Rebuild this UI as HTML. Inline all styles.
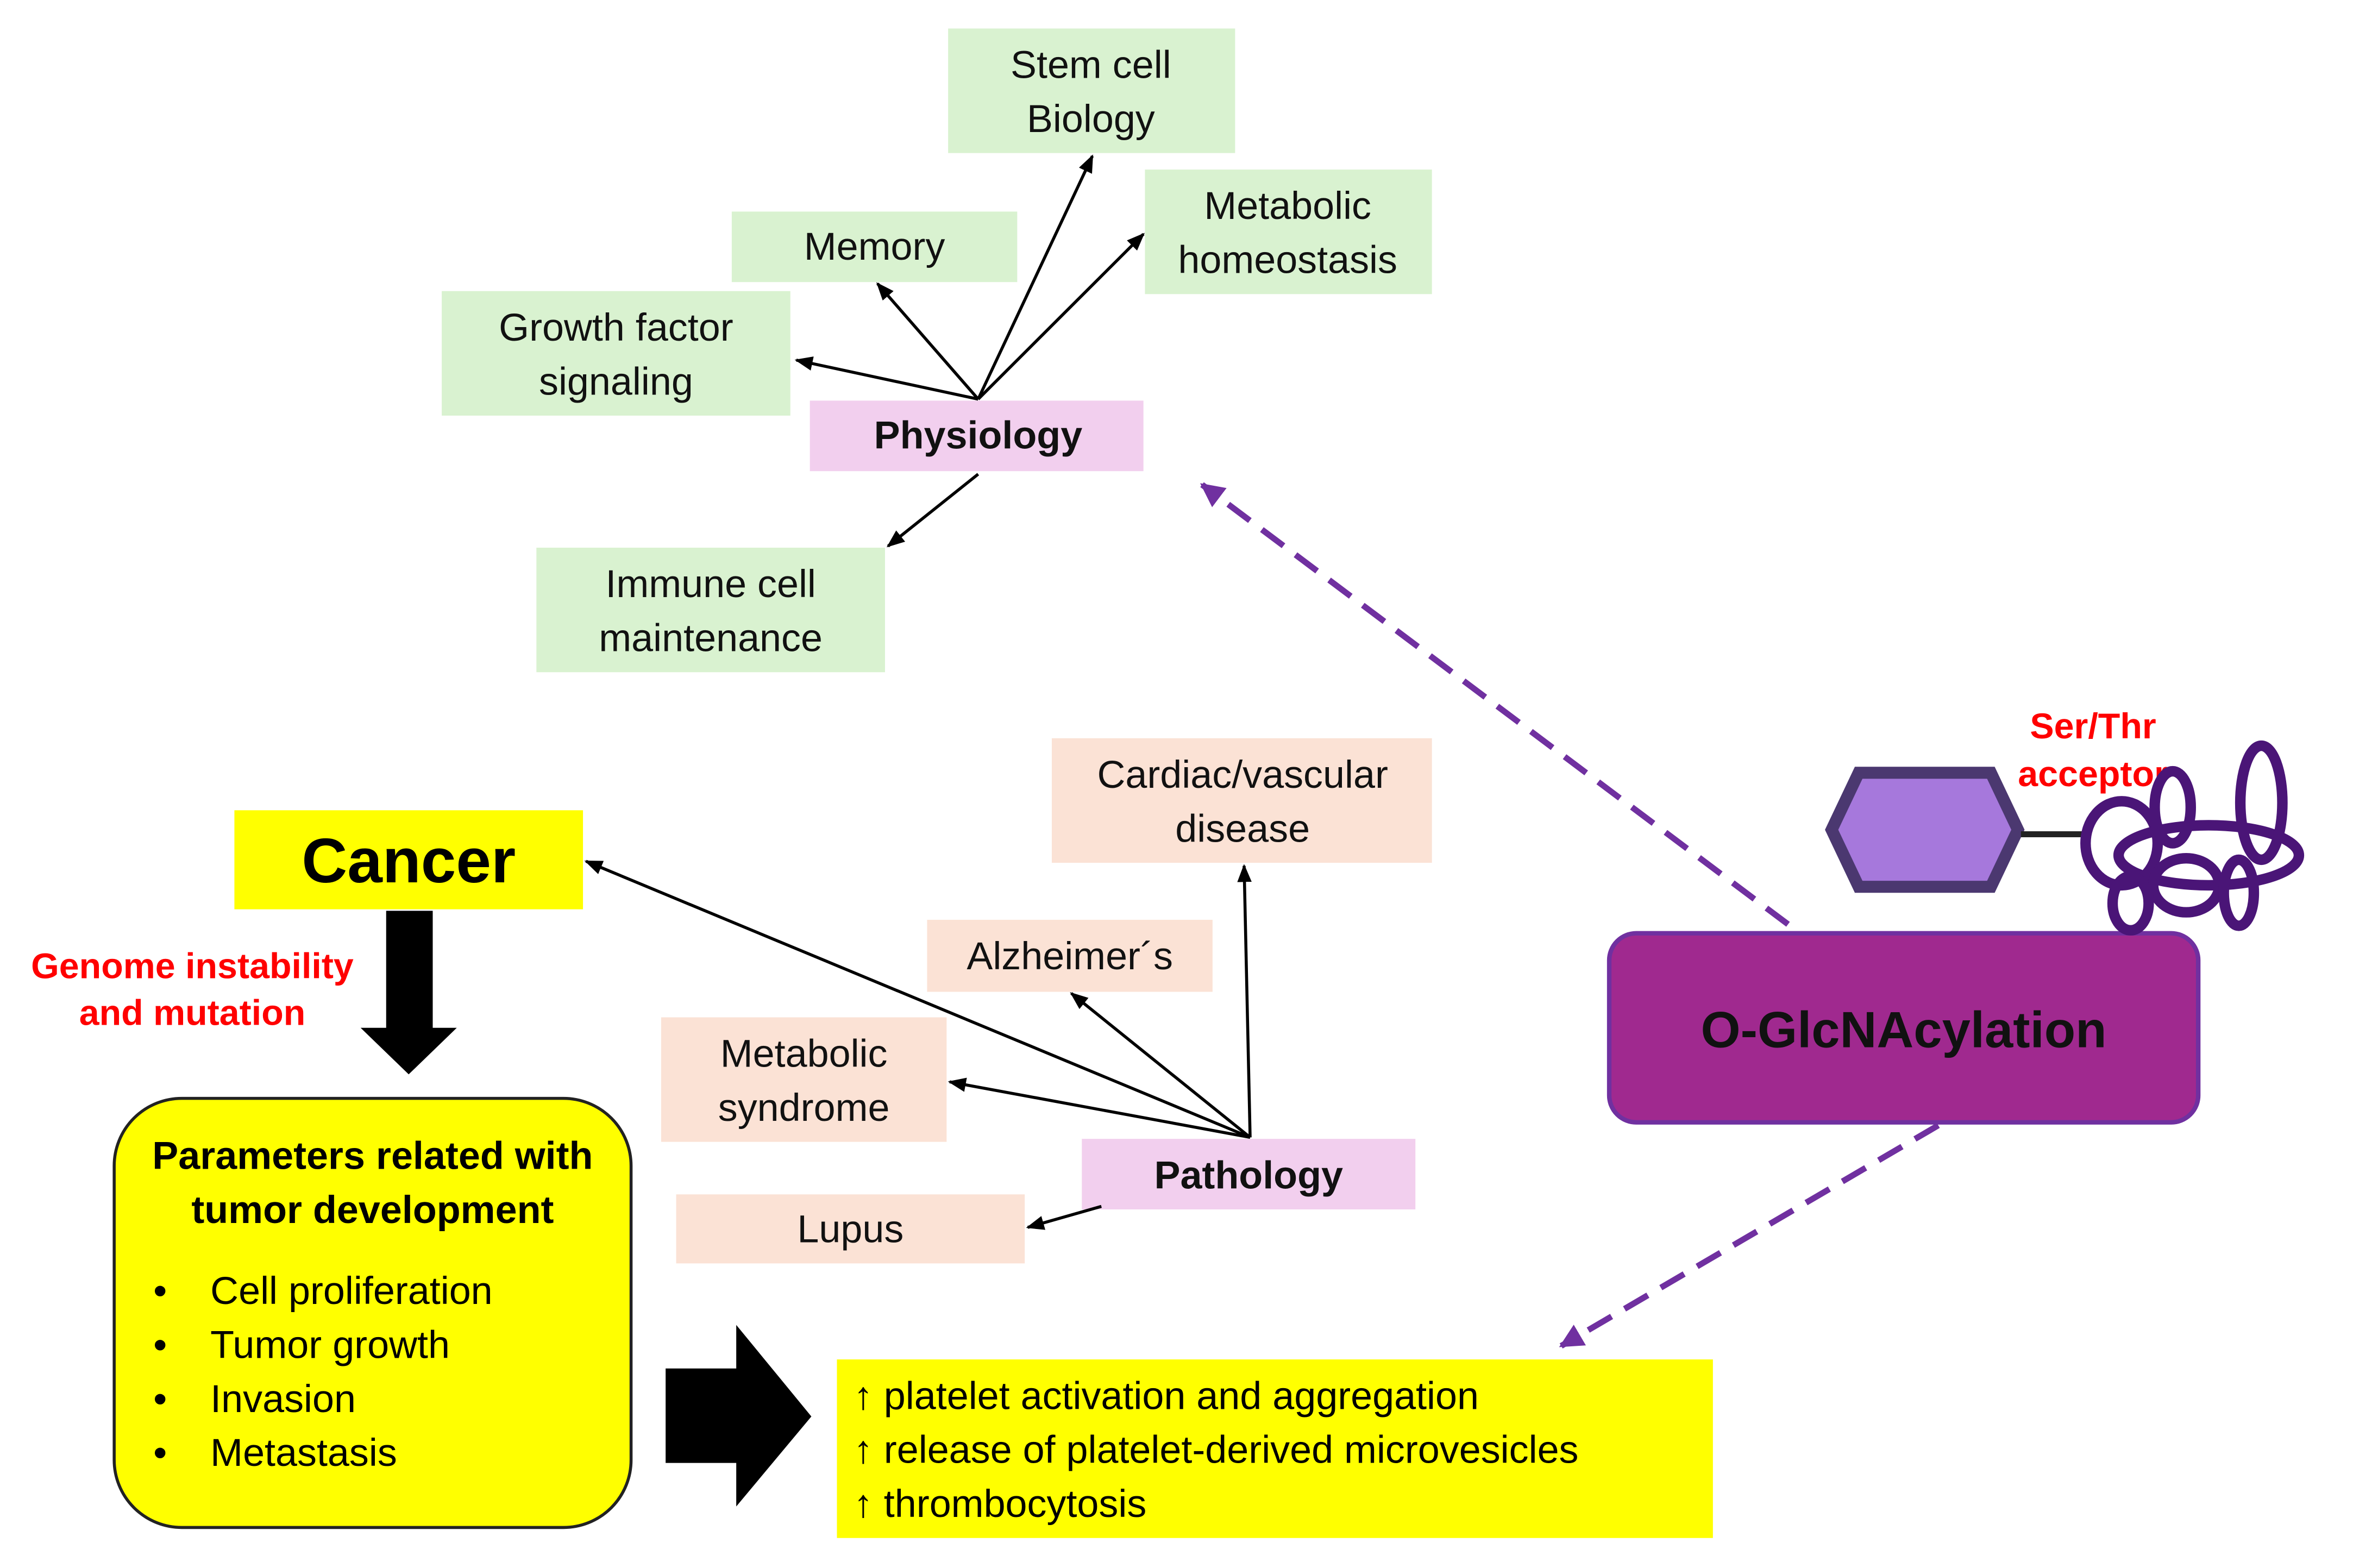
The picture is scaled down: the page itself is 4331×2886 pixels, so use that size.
<!DOCTYPE html>
<html><head><meta charset="utf-8"><style>
html,body{margin:0;padding:0;background:#fff;}
svg{display:block;}
text{font-family:"Liberation Sans","DejaVu Sans",sans-serif;}
</style></head><body>
<svg width="4331" height="2886" viewBox="0 0 1566 1045" preserveAspectRatio="none" xmlns="http://www.w3.org/2000/svg">
<defs>
<marker id="a" viewBox="0 0 10 10" refX="9" refY="5" markerWidth="6" markerHeight="6" orient="auto"><path d="M0,1 L10,5 L0,9 z" fill="#000"/></marker>
<marker id="p" viewBox="0 0 10 10" refX="9" refY="5" markerWidth="4" markerHeight="4" orient="auto"><path d="M0,0 L10,5 L0,10 z" fill="#7030a0"/></marker>
</defs>
<rect width="1566" height="1045" fill="#fff"/>
<g font-size="26" fill="#111" text-anchor="middle">
<rect x="631" y="19" width="191" height="83" fill="#d9f2d0"/>
<text x="726" y="52">Stem cell</text><text x="726" y="88">Biology</text>
<rect x="762" y="113" width="191" height="83" fill="#d9f2d0"/>
<text x="857" y="146">Metabolic</text><text x="857" y="182">homeostasis</text>
<rect x="487" y="141" width="190" height="47" fill="#d9f2d0"/>
<text x="582" y="173">Memory</text>
<rect x="294" y="194" width="232" height="83" fill="#d9f2d0"/>
<text x="410" y="227">Growth factor</text><text x="410" y="263">signaling</text>
<rect x="539" y="267" width="222" height="47" fill="#f2cfee"/>
<text x="651" y="299" font-weight="bold">Physiology</text>
<rect x="357" y="365" width="232" height="83" fill="#d9f2d0"/>
<text x="473" y="398">Immune cell</text><text x="473" y="434">maintenance</text>

<rect x="700" y="492" width="253" height="83" fill="#fbe2d5"/>
<text x="827" y="525">Cardiac/vascular</text><text x="827" y="561">disease</text>
<rect x="617" y="613" width="190" height="48" fill="#fbe2d5"/>
<text x="712" y="646">Alzheimer´s</text>
<rect x="440" y="678" width="190" height="83" fill="#fbe2d5"/>
<text x="535" y="711">Metabolic</text><text x="535" y="747">syndrome</text>
<rect x="720" y="759" width="222" height="47" fill="#f2cfee"/>
<text x="831" y="792" font-weight="bold">Pathology</text>
<rect x="450" y="796" width="232" height="46" fill="#fbe2d5"/>
<text x="566" y="828">Lupus</text>
</g>
<g stroke="#000" stroke-width="2" marker-end="url(#a)" fill="none">
<line x1="651" y1="266" x2="727" y2="104"/>
<line x1="651" y1="266" x2="761" y2="156"/>
<line x1="651" y1="266" x2="584" y2="189"/>
<line x1="651" y1="266" x2="530" y2="240"/>
<line x1="651" y1="316" x2="591" y2="364"/>
<line x1="832" y1="758" x2="828" y2="577"/>
<line x1="832" y1="758" x2="713" y2="662"/>
<line x1="832" y1="758" x2="632" y2="721"/>
<line x1="832" y1="758" x2="390" y2="574"/>
<line x1="733" y1="804" x2="684" y2="818"/>
</g>
<g stroke="#7030a0" stroke-width="4" stroke-dasharray="18,10" fill="none" marker-end="url(#p)">
<line x1="1190" y1="616" x2="800" y2="323"/>
<line x1="1290" y1="750" x2="1039" y2="897"/>
</g>
<rect x="156" y="540" width="232" height="66" fill="#ffff00"/>
<text x="272" y="588" font-size="42" font-weight="bold" text-anchor="middle" fill="#000">Cancer</text>
<path d="M257,607 H288 V685 H304 L272,716 L240,685 H257 Z" fill="#000"/>
<g font-size="24" font-weight="bold" fill="#ff0000" text-anchor="middle">
<text x="128" y="652">Genome instability</text><text x="128" y="683">and mutation</text>
<text x="1393" y="492">Ser/Thr</text><text x="1393" y="524">acceptor</text>
</g>
<rect x="76" y="732" width="344" height="286" rx="45" fill="#ffff00" stroke="#222" stroke-width="2"/>
<g font-size="26" fill="#000">
<text x="248" y="779" font-weight="bold" text-anchor="middle">Parameters related with</text>
<text x="248" y="815" font-weight="bold" text-anchor="middle">tumor development</text>
<text x="102" y="869">•</text><text x="140" y="869">Cell proliferation</text>
<text x="102" y="905">•</text><text x="140" y="905">Tumor growth</text>
<text x="102" y="941">•</text><text x="140" y="941">Invasion</text>
<text x="102" y="977">•</text><text x="140" y="977">Metastasis</text>
</g>
<path d="M443,912 H490 V883 L540,944 L490,1004 V975 H443 Z" fill="#000"/>
<rect x="557" y="906" width="583" height="119" fill="#ffff00"/>
<g font-size="26" fill="#000">
<text x="568" y="939">↑ platelet activation and aggregation</text>
<text x="568" y="975">↑ release of platelet-derived microvesicles</text>
<text x="568" y="1011">↑ thrombocytosis</text>
</g>
<rect x="1071" y="622" width="392" height="126" rx="18" fill="#a0298f" stroke="#7030a0" stroke-width="3"/>
<text x="1267" y="698" font-size="34" font-weight="bold" text-anchor="middle" fill="#111">O-GlcNAcylation</text>
<path d="M1237,515 H1325 L1343,553 L1325,591 H1237 L1219,553 Z" fill="#a678dc" stroke="#4b3870" stroke-width="8"/>
<line x1="1345" y1="556" x2="1387" y2="556" stroke="#222" stroke-width="4"/>
<g fill="none" stroke="#4a1577" stroke-width="7">
<ellipse cx="1412" cy="562" rx="24" ry="28"/>
<ellipse cx="1470" cy="570" rx="60" ry="20"/>
<ellipse cx="1505" cy="535" rx="14" ry="38"/>
<ellipse cx="1446" cy="538" rx="12" ry="24"/>
<ellipse cx="1455" cy="590" rx="22" ry="18"/>
<ellipse cx="1418" cy="602" rx="12" ry="18"/>
<ellipse cx="1490" cy="595" rx="10" ry="22"/>
</g>
</svg>
</body></html>
